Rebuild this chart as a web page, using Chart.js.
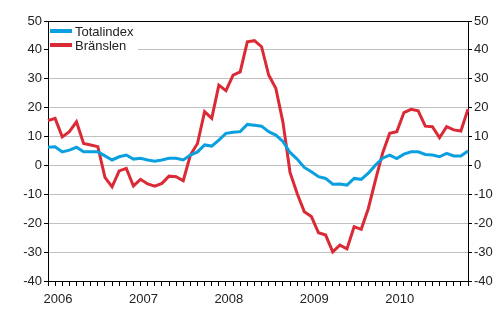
<!DOCTYPE html>
<html>
<head>
<meta charset="utf-8">
<script src="https://cdn.jsdelivr.net/npm/chart.js@4.4.1/dist/chart.umd.min.js"></script>
<style>
  html, body { margin: 0; padding: 0; background: #fff; }
  #wrap { width: 500px; height: 330px; }
</style>
</head>
<body>
<div id="wrap"><canvas id="chart" width="500" height="330"></canvas></div>
<script>
// Monthly change (%), Jan 2006 - Dec 2010
const YEARS = ['2006', '2007', '2008', '2009', '2010'];
const TOTALINDEX = [
  6.3, 6.5, 4.7, 5.3, 6.3, 4.7, 4.7, 4.7, 3.3, 1.9, 3.0, 3.6,
  2.2, 2.5, 1.9, 1.5, 1.9, 2.5, 2.5, 1.9, 3.6, 4.7, 7.1, 6.7,
  8.8, 11.1, 11.5, 11.7, 14.2, 13.9, 13.6, 11.7, 10.5, 8.3, 4.5, 2.2,
  -0.7, -2.2, -3.9, -4.5, -6.5, -6.4, -6.8, -4.5, -4.8, -2.7, 0.1, 2.5,
  3.6, 2.4, 3.9, 4.7, 4.7, 3.8, 3.6, 3.0, 4.2, 3.3, 3.3, 5.0
];
const BRANSLEN = [
  15.5, 16.3, 9.9, 11.7, 15.1, 7.6, 7.1, 6.5, -4.1, -7.4, -1.9, -1.0,
  -7.1, -4.8, -6.4, -7.2, -6.2, -3.7, -3.9, -5.3, 3.6, 7.6, 18.6, 16.3,
  27.8, 25.9, 31.3, 32.4, 42.8, 43.2, 41.1, 31.3, 26.7, 15.0, -2.4, -9.7,
  -16.0, -17.7, -23.3, -24.1, -29.9, -27.6, -28.9, -21.2, -22.1, -14.9, -5.1, 4.2,
  11.1, 11.7, 18.3, 19.4, 18.9, 13.6, 13.4, 9.6, 13.4, 12.3, 11.9, 19.5
];
const Y_MIN = -40;
const Y_MAX = 50;
const Y_STEP = 10;

const BLUE = '#0AA0E0';
const RED = '#DA2A36';
const GRID = '#c0c0c0';
const FONT = { family: 'Arial, "Liberation Sans", sans-serif', size: 13 };

const labels = [];
YEARS.forEach(y => { for (let m = 1; m <= 12; m++) labels.push(y + '-' + m); });

// legend drawn inside the plot, top-left, on a white box
const insideLegend = {
  id: 'insideLegend',
  afterDraw(chart) {
    const ctx = chart.ctx;
    const a = chart.chartArea;
    ctx.save();
    ctx.fillStyle = '#fff';
    ctx.fillRect(a.left + 1, a.top + 1, 89, 33);
    ctx.font = '13px ' + FONT.family;
    ctx.textBaseline = 'middle';
    chart.data.datasets.forEach((ds, i) => {
      const y = a.top + 10 + i * 14;
      ctx.strokeStyle = ds.borderColor;
      ctx.lineWidth = 4;
      ctx.beginPath();
      ctx.moveTo(a.left + 2, y);
      ctx.lineTo(a.left + 24, y);
      ctx.stroke();
      ctx.fillStyle = '#222';
      ctx.fillText(ds.label, a.left + 27, y + 1);
    });
    ctx.restore();
  }
};

new Chart(document.getElementById('chart'), {
  type: 'line',
  data: {
    labels: labels,
    datasets: [
      { label: 'Totalindex', data: TOTALINDEX, borderColor: BLUE, borderWidth: 3, pointRadius: 0, tension: 0 },
      { label: 'Bränslen', data: BRANSLEN, borderColor: RED, borderWidth: 3, pointRadius: 0, tension: 0 },
    ],
  },
  options: {
    responsive: false,
    animation: false,
    layout: { padding: { top: 21, left: 0, right: 0, bottom: 0 } },
    plugins: { legend: { display: false }, tooltip: { enabled: false } },
    scales: {
      x: {
        offset: false,
        grid: { drawOnChartArea: false, offset: false, tickLength: 5, tickColor: '#000' },
        border: { color: '#000' },
        ticks: {
          autoSkip: false, maxRotation: 0, color: '#222', font: FONT, padding: 6, labelOffset: 10,
          callback: (v, i) => (i % 12 === 0 ? YEARS[i / 12] : ''),
        },
        afterFit: s => { s.height = 49; },
      },
      y: {
        position: 'left',
        min: Y_MIN, max: Y_MAX,
        grid: {
          color: c => (c.tick && c.tick.value === Y_MAX ? '#000' : GRID),
          tickColor: '#000', tickLength: 4,
        },
        border: { color: '#000' },
        ticks: { stepSize: Y_STEP, color: '#222', font: FONT, padding: 2 },
        afterFit: s => { s.width = 48; },
      },
      y2: {
        position: 'right',
        min: Y_MIN, max: Y_MAX,
        grid: { drawOnChartArea: false, tickColor: '#000', tickLength: 4 },
        border: { color: '#000' },
        ticks: { stepSize: Y_STEP, color: '#222', font: FONT, padding: 2 },
        afterFit: s => { s.width = 32; },
      },
    },
  },
  plugins: [insideLegend],
});
</script>
</body>
</html>
